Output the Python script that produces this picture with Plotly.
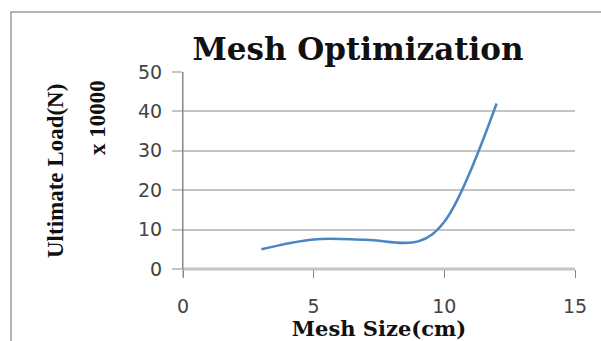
import plotly.graph_objects as go

mesh_size = [3, 5, 7, 9, 10, 12]
load = [5, 7.5, 7.4, 7.0, 12, 42]
x_ticks = [0, 5, 10, 15]
y_ticks = [0, 10, 20, 30, 40, 50]

W, H = 601, 341
L, R, T, B = 183, 26, 72, 72
pw, ph = W - L - R, H - T - B

def px(x):
    return (x - L) / pw

def py(y):
    return (H - B - y) / ph

fig = go.Figure()
fig.add_trace(go.Scatter(
    x=mesh_size, y=load, mode="lines",
    line=dict(color="#4a86c5", width=2.5, shape="spline", smoothing=1.0),
    hoverinfo="skip", showlegend=False,
))

tick_font = dict(family="DejaVu Sans", size=19, color="#444444")
fig.update_layout(
    width=W, height=H,
    margin=dict(l=L, r=R, t=T, b=B, autoexpand=False),
    paper_bgcolor="white", plot_bgcolor="white",
    title=dict(text="<b>Mesh Optimization</b>", x=358 / W, xanchor="center",
               xref="container",
               y=1 - 49 / H, yanchor="middle",
               font=dict(family="DejaVu Serif", size=31, color="#111111")),
    xaxis=dict(range=[0, 15], tickvals=x_ticks, ticktext=[str(v) for v in x_ticks],
               showgrid=False, zeroline=False, showline=False, automargin=False,
               ticks="outside", ticklen=8, tickcolor="#888888", tickwidth=1,
               ticklabelstandoff=12, tickfont=tick_font,
               title=dict(text="<b>Mesh Size(cm)</b>", standoff=8,
                          font=dict(family="DejaVu Serif", size=21, color="#111111"))),
    yaxis=dict(range=[0, 50], tickvals=y_ticks, ticktext=[str(v) for v in y_ticks],
               showgrid=True, gridcolor="#c4c4c4", gridwidth=2, automargin=False,
               zeroline=False, showline=True, linecolor="#888888", linewidth=1,
               ticks="outside", ticklen=10, tickcolor="#c4c4c4", tickwidth=2,
               ticklabelstandoff=6, tickfont=tick_font),
)

# x axis baseline
fig.add_shape(type="line", xref="paper", yref="paper", x0=0, x1=1, y0=0, y1=0,
              line=dict(color="#c4c4c4", width=3), layer="below")
# y axis line extension below baseline
fig.add_shape(type="line", xref="paper", yref="paper", x0=0, x1=0, y0=py(277), y1=1,
              line=dict(color="#888888", width=1))

# chart border
fig.add_shape(type="rect", xref="paper", yref="paper",
              x0=px(11), x1=px(W + 5), y0=py(H + 5), y1=py(12),
              line=dict(color="#9a9a9a", width=1.5))

fig.add_annotation(text="<b>Ultimate Load(N)</b>", textangle=-90, showarrow=False,
                   xref="paper", yref="paper", x=px(55), y=py(171),
                   xanchor="center", yanchor="middle",
                   font=dict(family="Liberation Serif", size=23, color="#111111"))
fig.add_annotation(text="<b>x 10000</b>", textangle=-90, showarrow=False,
                   xref="paper", yref="paper", x=px(97), y=py(118),
                   xanchor="center", yanchor="middle",
                   font=dict(family="Liberation Serif", size=23, color="#111111"))

fig.write_html("out.html")
